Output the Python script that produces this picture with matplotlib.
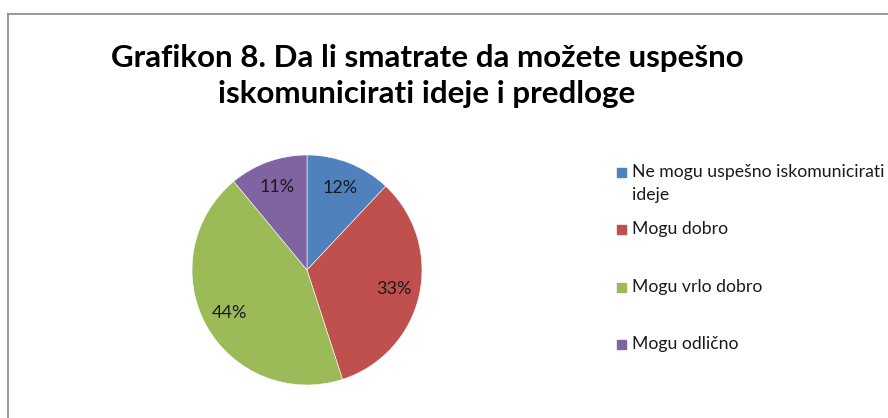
import matplotlib.pyplot as plt
from matplotlib.patches import Rectangle
from matplotlib.lines import Line2D

plt.rcParams['font.family'] = ['Lato', 'DejaVu Sans']

# Grafikon 8 - odgovori u procentima
kategorije = ['Ne mogu uspešno iskomunicirati\nideje', 'Mogu dobro',
              'Mogu vrlo dobro', 'Mogu odlično']
procenti = [12, 33, 44, 11]
boje = ['#4F81BD', '#C0504D', '#9BBB59', '#8064A2']
naslov = 'Grafikon 8. Da li smatrate da možete uspešno\niskomunicirati ideje i predloge'

W, H = 888, 418
fig = plt.figure(figsize=(W / 100, H / 100), dpi=100)

# okvir grafikona (vidi se samo gornja i leva ivica)
fig.add_artist(Line2D([7.5 / W, 7.5 / W], [0, 1 - 13.5 / H],
                      transform=fig.transFigure, color='#878787', lw=1.2))
fig.add_artist(Line2D([7.5 / W, 1], [1 - 13.5 / H, 1 - 13.5 / H],
                      transform=fig.transFigure, color='#878787', lw=1.2))

fig.text(427 / W, 1 - 76 / H, naslov, ha='center', va='center',
         fontsize=22.6, fontweight='bold', linespacing=1.33)

# pita
cx, cy, r = 307, 270, 115
ax = fig.add_axes([(cx - r) / W, (H - cy - r) / H, 2 * r / W, 2 * r / H])
ax.pie(procenti, colors=boje, startangle=90, counterclock=False,
       autopct='%d%%', pctdistance=0.77,
       wedgeprops=dict(edgecolor='white', linewidth=0.4),
       textprops=dict(fontsize=13, color='#1a1a1a'))
ax.set_xlim(-1, 1)
ax.set_ylim(-1, 1)
ax.set_aspect('equal')

# legenda
leg_y = [172, 229, 287, 344]
for lab, boja, y in zip(kategorije, boje, leg_y):
    fig.add_artist(Rectangle((617 / W, 1 - (y + 4.5) / H), 9 / W, 9 / H,
                             transform=fig.transFigure, color=boja))
    fig.text(632 / W, 1 - (y - 8) / H, lab, ha='left', va='top',
             fontsize=12.7, color='#1a1a1a', linespacing=1.55)

fig.savefig('out.png', dpi=100)
